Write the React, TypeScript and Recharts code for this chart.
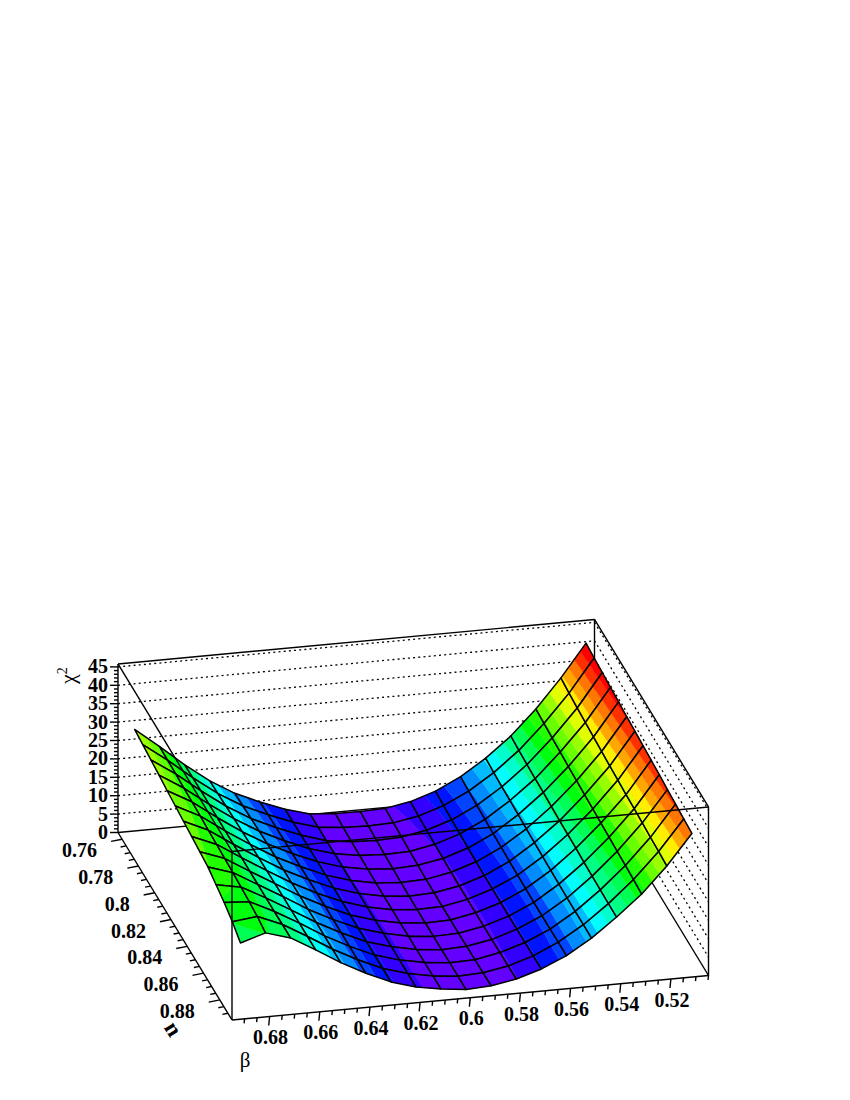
import { ScatterChart, Scatter, XAxis, YAxis } from "recharts";

const betaValues = [0.69, 0.68, 0.67, 0.66, 0.65, 0.64, 0.63, 0.62, 0.61, 0.6, 0.59, 0.58, 0.57, 0.56, 0.55, 0.54, 0.53, 0.52, 0.51];
const nValues = [0.76, 0.77, 0.78, 0.79, 0.8, 0.81, 0.82, 0.83, 0.84, 0.85, 0.86, 0.87, 0.88, 0.89];

// chi2 along n, one list per beta
const chi069 = [29.5, 29.0, 28.5, 28.0, 27.4, 26.9, 26.4, 25.9, 25.4, 24.9, 23.7, 22.5, 20.9, 18.8];
const chi068 = [24.2, 24.1, 24.0, 23.8, 23.7, 23.5, 23.3, 23.1, 22.9, 22.7, 22.4, 22.1, 21.7, 20.9];
const chi067 = [18.6, 18.7, 18.8, 18.8, 18.8, 18.8, 18.8, 18.8, 18.8, 18.8, 18.8, 18.8, 18.9, 18.9];
const chi066 = [13.6, 13.8, 14.0, 14.2, 14.3, 14.5, 14.6, 14.7, 14.8, 14.9, 14.9, 15.0, 15.0, 15.0];
const chi065 = [9.6, 9.8, 10.0, 10.2, 10.4, 10.5, 10.6, 10.7, 10.8, 10.8, 10.9, 10.9, 10.9, 10.9];
const chi064 = [6.6, 6.8, 6.9, 7.0, 7.1, 7.2, 7.3, 7.3, 7.4, 7.4, 7.4, 7.4, 7.4, 7.4];
const chi063 = [4.0, 4.1, 4.2, 4.2, 4.3, 4.3, 4.4, 4.4, 4.4, 4.4, 4.4, 4.4, 4.4, 4.4];
const chi062 = [2.1, 2.1, 2.1, 2.2, 2.2, 2.2, 2.3, 2.3, 2.3, 2.4, 2.4, 2.4, 2.4, 2.4];
const chi061 = [1.6, 1.4, 1.2, 1.1, 1.0, 0.9, 0.9, 0.9, 0.9, 1.0, 1.0, 1.1, 1.1, 1.2];
const chi060 = [1.5, 1.2, 0.9, 0.7, 0.5, 0.4, 0.3, 0.3, 0.3, 0.3, 0.3, 0.4, 0.4, 0.4];
const chi059 = [1.7, 1.4, 1.2, 0.9, 0.8, 0.6, 0.6, 0.5, 0.5, 0.5, 0.6, 0.6, 0.7, 0.8];
const chi058 = [2.9, 2.6, 2.4, 2.2, 2.0, 1.9, 1.8, 1.8, 1.8, 1.8, 1.8, 1.9, 1.9, 2.0];
const chi057 = [5.1, 4.8, 4.6, 4.4, 4.2, 4.1, 4.0, 4.0, 3.9, 3.9, 4.0, 4.0, 4.0, 4.1];
const chi056 = [8.4, 8.1, 7.9, 7.7, 7.5, 7.4, 7.2, 7.1, 7.1, 7.0, 7.0, 7.0, 7.1, 7.1];
const chi055 = [12.8, 12.5, 12.3, 12.2, 12.0, 11.8, 11.7, 11.5, 11.4, 11.3, 11.2, 11.2, 11.2, 11.2];
const chi054 = [18.2, 17.9, 17.7, 17.5, 17.4, 17.2, 17.0, 16.9, 16.8, 16.6, 16.5, 16.4, 16.3, 16.3];
const chi053 = [24.9, 24.6, 24.3, 24.1, 23.8, 23.6, 23.4, 23.2, 23.0, 22.8, 22.6, 22.4, 22.2, 21.9];
const chi052 = [32.7, 32.2, 31.8, 31.5, 31.2, 30.9, 30.6, 30.4, 30.1, 29.9, 29.7, 29.4, 29.2, 28.9];
const chi051 = [41.5, 41.1, 40.8, 40.4, 40.1, 39.7, 39.4, 39.1, 38.8, 38.5, 38.1, 37.8, 37.4, 37.1];
const chiByBeta = [chi069, chi068, chi067, chi066, chi065, chi064, chi063, chi062, chi061, chi060, chi059, chi058, chi057, chi056, chi055, chi054, chi053, chi052, chi051];

const betaTickLabels = ["0.68", "0.66", "0.64", "0.62", "0.6", "0.58", "0.56", "0.54", "0.52"];
const nTickLabels = ["0.76", "0.78", "0.8", "0.82", "0.84", "0.86", "0.88"];
const chiTickLabels = ["0", "5", "10", "15", "20", "25", "30", "35", "40", "45"];

const W = 850;
const H = 1100;
const SERIF = "'Liberation Serif', 'Times New Roman', serif";

// box of the lego plot on the page
const BETA_MAX = 0.695;
const BETA_MIN = 0.505;
const N_MIN = 0.755;
const N_MAX = 0.895;
const PX_PER_CHI = 3.68;
const CHI_TOP = 45.8;
const front = { x: 232, y: 1020 };
const alongBeta = { x: 476.5, y: -44.5 };
const alongN = { x: -114, y: -187.5 };

function project(beta: number, n: number, chi: number) {
  const a = (BETA_MAX - beta) / (BETA_MAX - BETA_MIN);
  const b = (N_MAX - n) / (N_MAX - N_MIN);
  return {
    x: front.x + a * alongBeta.x + b * alongN.x,
    y: front.y + a * alongBeta.y + b * alongN.y - chi * PX_PER_CHI,
  };
}

// ROOT rainbow palette, 50 colours cut in 20 levels
const LEVELS = 20;
const CHI_MAX = 41.5;
function levelColor(k: number) {
  const idx = Math.floor((k + 0.99) * 2.5);
  const hue = 280 - (idx + 1) * 5.6;
  return `hsl(${hue}, 100%, 50%)`;
}

type V = { x: number; y: number; c: number };

function clip(poly: V[], level: number, keepAbove: boolean) {
  const out: V[] = [];
  for (let i = 0; i < poly.length; i++) {
    const p = poly[i];
    const q = poly[(i + 1) % poly.length];
    const pIn = keepAbove ? p.c >= level : p.c <= level;
    const qIn = keepAbove ? q.c >= level : q.c <= level;
    if (pIn) out.push(p);
    if (pIn !== qIn) {
      const t = (level - p.c) / (q.c - p.c);
      out.push({ x: p.x + t * (q.x - p.x), y: p.y + t * (q.y - p.y), c: level });
    }
  }
  return out;
}

const cells: { x: number; y: number; corners: V[] }[] = [];
for (let j = 0; j < nValues.length - 1; j++) {
  for (let i = 0; i < betaValues.length - 1; i++) {
    const corners = [
      [i, j],
      [i + 1, j],
      [i + 1, j + 1],
      [i, j + 1],
    ].map(([a, b]) => {
      const c = chiByBeta[a][b];
      return { ...project(betaValues[a], nValues[b], c), c };
    });
    cells.push({ x: corners[0].x, y: corners[0].y, corners });
  }
}

const toPoints = (poly: { x: number; y: number }[], dx: number, dy: number) =>
  poly.map((p) => `${(p.x + dx).toFixed(2)},${(p.y + dy).toFixed(2)}`).join(" ");

function CellShape(props: any) {
  const { cx, cy, payload } = props;
  const dx = cx - payload.x;
  const dy = cy - payload.y;
  const step = CHI_MAX / LEVELS;
  const bands = [];
  for (let k = 0; k < LEVELS; k++) {
    let poly = clip(payload.corners, k * step, true);
    if (poly.length > 2 && k < LEVELS - 1) poly = clip(poly, (k + 1) * step, false);
    if (poly.length > 2) {
      const col = levelColor(k);
      bands.push(<polygon key={k} points={toPoints(poly, dx, dy)} fill={col} stroke={col} strokeWidth={0.4} />);
    }
  }
  return (
    <g>
      {bands}
      <polygon points={toPoints(payload.corners, dx, dy)} fill="none" stroke="#000" strokeWidth={1.5} strokeLinejoin="round" />
    </g>
  );
}

type Seg = { x: number; y: number; x2: number; y2: number; dotted?: boolean };

function SegShape(props: any) {
  const { cx, cy, payload } = props;
  const dx = cx - payload.x;
  const dy = cy - payload.y;
  return (
    <line
      x1={cx}
      y1={cy}
      x2={payload.x2 + dx}
      y2={payload.y2 + dy}
      stroke="#000"
      strokeWidth={payload.dotted ? 1.3 : 1.4}
      strokeDasharray={payload.dotted ? "2 3.2" : undefined}
    />
  );
}

function seg(a: { x: number; y: number }, b: { x: number; y: number }, dotted = false): Seg {
  return { x: a.x, y: a.y, x2: b.x, y2: b.y, dotted };
}

// back walls and floor, behind the surface
const backLines: Seg[] = [
  seg(project(BETA_MAX, N_MIN, 0), project(BETA_MIN, N_MIN, 0)),
  seg(project(BETA_MIN, N_MIN, 0), project(BETA_MIN, N_MAX, 0)),
  seg(project(BETA_MAX, N_MIN, CHI_TOP), project(BETA_MIN, N_MIN, CHI_TOP)),
  seg(project(BETA_MIN, N_MIN, 0), project(BETA_MIN, N_MIN, CHI_TOP)),
  seg(project(BETA_MAX, N_MIN, 0), project(BETA_MAX, N_MIN, CHI_TOP)),
  seg(project(BETA_MIN, N_MIN, CHI_TOP), project(BETA_MIN, N_MAX, CHI_TOP)),
];
chiTickLabels.slice(1).forEach((label) => {
  const c = Number(label);
  backLines.push(seg(project(BETA_MAX, N_MIN, c), project(BETA_MIN, N_MIN, c), true));
  backLines.push(seg(project(BETA_MIN, N_MIN, c), project(BETA_MIN, N_MAX, c), true));
});

// front edges of the box, over the surface
const frontLines: Seg[] = [
  seg(project(BETA_MAX, N_MIN, CHI_TOP), project(BETA_MAX, N_MAX, CHI_TOP)),
  seg(project(BETA_MAX, N_MAX, CHI_TOP), project(BETA_MIN, N_MAX, CHI_TOP)),
  seg(project(BETA_MAX, N_MAX, CHI_TOP), project(BETA_MAX, N_MAX, 0)),
  seg(project(BETA_MIN, N_MAX, CHI_TOP), project(BETA_MIN, N_MAX, 0)),
  seg(project(BETA_MAX, N_MAX, 0), project(BETA_MIN, N_MAX, 0)),
  seg(project(BETA_MAX, N_MIN, 0), project(BETA_MAX, N_MAX, 0)),
];

const betaTickValues: number[] = [];
for (let k = 0; k <= 37; k++) betaTickValues.push(0.69 - k * 0.005);
const nTickValues: number[] = [];
for (let k = 0; k <= 26; k++) nTickValues.push(0.76 + k * 0.005);
const chiTickValues: number[] = [];
for (let k = 0; k <= 45; k++) chiTickValues.push(k);

const isMajor = (v: number) => Math.abs(v * 50 - Math.round(v * 50)) < 1e-6;

const tickLines: Seg[] = [];
betaTickValues.forEach((b) => {
  const p = project(b, N_MAX, 0);
  const len = isMajor(b) ? 9 : 4.5;
  tickLines.push(seg(p, { x: p.x - 0.1 * len, y: p.y + len }));
});
nTickValues.forEach((n) => {
  const p = project(BETA_MAX, n, 0);
  const len = isMajor(n) ? 11 : 5.5;
  tickLines.push(seg(p, { x: p.x - len, y: p.y + 0.2 * len }));
});
chiTickValues.forEach((c) => {
  const p = project(BETA_MAX, N_MIN, c);
  const len = c % 5 === 0 ? 8 : 4;
  tickLines.push(seg(p, { x: p.x - len, y: p.y }));
});

type Label = { x: number; y: number; text: string; anchor: string; size: number; bold: boolean; rotate?: number; sup?: string };

const labels: Label[] = [
  ...betaTickLabels.map((text) => {
    const p = project(Number(text), N_MAX, 0);
    return { x: p.x + 1, y: p.y + 27.5, text, anchor: "middle", size: 20, bold: true };
  }),
  ...nTickLabels.map((text) => {
    const p = project(BETA_MAX, Number(text), 0);
    return { x: p.x - 25, y: p.y + 18, text, anchor: "end", size: 20, bold: true };
  }),
  ...chiTickLabels.map((text) => {
    const p = project(BETA_MAX, N_MIN, Number(text));
    return { x: p.x - 10, y: p.y + 6.5, text, anchor: "end", size: 20, bold: true };
  }),
  { x: 245, y: 1067, text: "β", anchor: "middle", size: 21, bold: false },
  { x: 167, y: 1033, text: "n", anchor: "middle", size: 23, bold: true, rotate: 58 },
  { x: 75, y: 684, text: "χ", anchor: "start", size: 22, bold: false, rotate: -90, sup: "2" },
];

function LabelShape(props: any) {
  const { cx, cy, payload } = props;
  return (
    <text
      x={cx}
      y={cy}
      textAnchor={payload.anchor}
      fontFamily={SERIF}
      fontSize={payload.size}
      fontWeight={payload.bold ? "bold" : "normal"}
      fill="#000"
      transform={payload.rotate ? `rotate(${payload.rotate} ${cx} ${cy})` : undefined}
    >
      {payload.text}
      {payload.sup ? (
        <tspan dy={-8} fontSize={14}>
          {payload.sup}
        </tspan>
      ) : null}
    </text>
  );
}

export default function App() {
  return (
    <div style={{ position: "absolute", left: 0, top: 0, width: W, height: H }}>
      <ScatterChart width={W} height={H} margin={{ top: 0, right: 0, bottom: 0, left: 0 }}>
        <XAxis type="number" dataKey="x" domain={[0, W]} hide />
        <YAxis type="number" dataKey="y" domain={[0, H]} reversed hide />
        <Scatter data={backLines} shape={SegShape} isAnimationActive={false} />
        <Scatter data={cells} shape={CellShape} isAnimationActive={false} />
        <Scatter data={frontLines} shape={SegShape} isAnimationActive={false} />
        <Scatter data={tickLines} shape={SegShape} isAnimationActive={false} />
        <Scatter data={labels} shape={LabelShape} isAnimationActive={false} />
      </ScatterChart>
    </div>
  );
}
